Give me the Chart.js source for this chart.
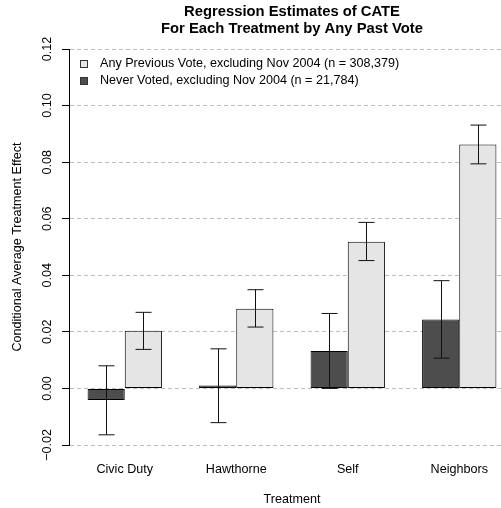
<!DOCTYPE html>
<html><head><meta charset="utf-8">
<script src="https://cdn.jsdelivr.net/npm/chart.js@4"></script>
<style>html,body{margin:0;padding:0;background:#fff;overflow:hidden;width:501px;height:508px;}canvas{display:block;}</style>
</head><body>
<canvas id="c" width="515" height="508"></canvas>
<script>
const categories = ['Civic Duty', 'Hawthorne', 'Self', 'Neighbors'];
const neverVoted = [-0.0041, 0.0010, 0.0132, 0.0244];
const neverVotedLow = [-0.0164, -0.0121, 0.0000, 0.0107];
const neverVotedHigh = [0.0080, 0.0140, 0.0265, 0.0381];
const anyPrevious = [0.0204, 0.0282, 0.0519, 0.0862];
const anyPreviousLow = [0.0138, 0.0217, 0.0452, 0.0794];
const anyPreviousHigh = [0.0269, 0.0349, 0.0587, 0.0931];
const yTicks = [-0.02, 0.00, 0.02, 0.04, 0.06, 0.08, 0.10, 0.12];
const seriesLabels = ['Never Voted, excluding Nov 2004 (n = 21,784)', 'Any Previous Vote, excluding Nov 2004 (n = 308,379)'];

const FS = 12.6;
Chart.defaults.font.family = "'Liberation Sans', Arial, sans-serif";
Chart.defaults.font.size = FS;
Chart.defaults.color = '#000';

const errorBars = {
  id: 'errorBars',
  afterDatasetsDraw(chart) {
    const ctx = chart.ctx, ys = chart.scales.y;
    chart.data.datasets.forEach((ds, i) => {
      const meta = chart.getDatasetMeta(i);
      meta.data.forEach((bar, j) => {
        const x = Math.round(bar.x) + 0.5;
        const yl = ys.getPixelForValue(ds.errLow[j]);
        const yh = ys.getPixelForValue(ds.errHigh[j]);
        ctx.save();
        ctx.strokeStyle = '#111';
        ctx.lineWidth = 1;
        ctx.beginPath();
        ctx.moveTo(x, yl); ctx.lineTo(x, yh);
        ctx.moveTo(x - 8, yl); ctx.lineTo(x + 8, yl);
        ctx.moveTo(x - 8, yh); ctx.lineTo(x + 8, yh);
        ctx.stroke();
        ctx.restore();
      });
    });
  }
};

const boxLegend = {
  id: 'boxLegend',
  afterDraw(chart) {
    const ctx = chart.ctx, a = chart.chartArea;
    const order = [1, 0];
    ctx.save();
    ctx.font = FS + "px 'Liberation Sans', Arial, sans-serif";
    ctx.textBaseline = 'middle';
    ctx.textAlign = 'left';
    order.forEach((di, k) => {
      const ds = chart.data.datasets[di];
      const cy = a.top + 15 + k * 17;
      const bx = a.left + 11;
      ctx.fillStyle = ds.backgroundColor;
      ctx.fillRect(bx, cy - 4, 8, 8);
      ctx.strokeStyle = '#333';
      ctx.lineWidth = 1;
      ctx.strokeRect(bx + 0.5, cy - 3.5, 7, 7);
      ctx.fillStyle = '#000';
      ctx.fillText(ds.label, bx + 20, cy);
    });
    ctx.restore();
  }
};

new Chart(document.getElementById('c'), {
  type: 'bar',
  data: {
    labels: categories,
    datasets: [
      { label: seriesLabels[0], data: neverVoted, errLow: neverVotedLow, errHigh: neverVotedHigh,
        backgroundColor: '#4d4d4d', borderColor: '#000', borderWidth: 1, borderSkipped: false,
        categoryPercentage: 2/3, barPercentage: 1 },
      { label: seriesLabels[1], data: anyPrevious, errLow: anyPreviousLow, errHigh: anyPreviousHigh,
        backgroundColor: '#e5e5e5', borderColor: '#000', borderWidth: 1, borderSkipped: false,
        categoryPercentage: 2/3, barPercentage: 1 }
    ]
  },
  options: {
    responsive: false, animation: false, devicePixelRatio: 1,
    layout: { padding: 0 },
    plugins: {
      legend: { display: false },
      tooltip: { enabled: false },
      title: {
        display: true, fullSize: false,
        text: ['Regression Estimates of CATE', 'For Each Treatment by Any Past Vote'],
        font: { size: 14.8, weight: 'bold', lineHeight: '17px' },
        color: '#000',
        padding: { top: 3, bottom: 12 }
      }
    },
    scales: {
      x: {
        type: 'category', offset: true,
        grid: { display: false, drawTicks: false },
        border: { display: false },
        ticks: { padding: 17, maxRotation: 0, autoSkip: false, color: '#000' },
        title: { display: true, text: 'Treatment', color: '#000', padding: { top: 0, bottom: 0.5 } },
        afterFit(s) { s.height = 63; }
      },
      y: {
        min: -0.02, max: 0.12,
        afterBuildTicks(s) { s.ticks = yTicks.map(v => ({ value: v })); },
        grid: { color: '#bebebe', lineWidth: 1, drawTicks: true, tickLength: 7, tickColor: '#000', tickWidth: 1, tickBorderDash: [] },
        border: { display: true, color: '#000', width: 1, dash: [4, 3] },
        ticks: {
          minRotation: 90, maxRotation: 90, crossAlign: 'center', padding: -1.5, autoSkip: false, color: '#000',
          callback: v => Number(v).toFixed(2).replace('-', '\u2212')
        },
        title: { display: true, text: 'Conditional Average Treatment Effect', color: '#000', padding: { top: 10, bottom: 0 } },
        afterFit(s) { s.width = 69; }
      }
    }
  },
  plugins: [errorBars, boxLegend]
});
</script>
</body></html>
